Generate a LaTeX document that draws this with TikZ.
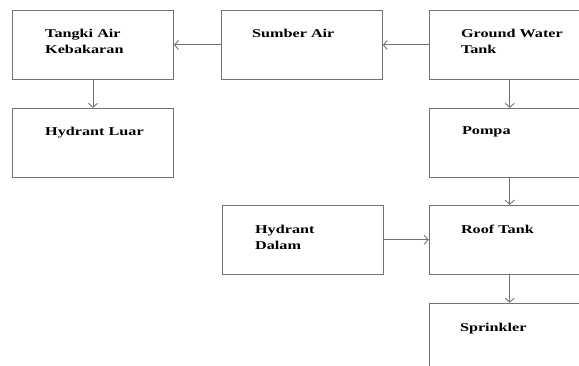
\documentclass[tikz,border=0pt]{standalone}
\usepackage{fontspec}
\setmainfont[FakeStretch=1.35]{Liberation Serif}
\usetikzlibrary{positioning,arrows.meta}
\tikzset{
  kotak/.style={draw=black!55, line width=0.9pt, minimum width=161pt, minimum height=69pt, inner sep=0pt},
  tulisan/.style={font=\bfseries\fontsize{12}{16}\selectfont, align=left, anchor=north west, inner sep=0pt},
  panah/.style={draw=black!55, line width=0.9pt, -{Straight Barb[length=4pt,width=9pt]}}
}
\begin{document}
\begin{tikzpicture}
        \useasboundingbox[fill=white] (0,0) rectangle (579pt,-366pt);
        % kotak-kotak
        \node[kotak, anchor=north west] (tangki) at (12pt,-10pt) {};
        \node[kotak, right=47pt of tangki] (sumber) {};
        \node[kotak, right=46pt of sumber] (gwt) {};
        \node[kotak, below=28pt of tangki] (luar) {};
        \node[kotak, below=28pt of gwt] (pompa) {};
        \node[kotak, below=27pt of pompa] (roof) {};
        \node[kotak, below=28pt of roof] (sprinkler) {};
        \node[kotak, left=45pt of roof] (dalam) {};
        % tulisan
        \node[tulisan] (t-tangki) at ([xshift=33pt,yshift=-19pt]tangki.north west) {Tangki Air\\Kebakaran};
        \node[tulisan] (t-sumber) at ([xshift=31pt,yshift=-19pt]sumber.north west) {Sumber Air};
        \node[tulisan] (t-gwt) at ([xshift=32pt,yshift=-19pt]gwt.north west) {Ground Water\\Tank};
        \node[tulisan] (t-luar) at ([xshift=33pt,yshift=-19pt]luar.north west) {Hydrant Luar};
        \node[tulisan] (t-pompa) at ([xshift=33pt,yshift=-19pt]pompa.north west) {Pompa};
        \node[tulisan] (t-roof) at ([xshift=32pt,yshift=-20pt]roof.north west) {Roof Tank};
        \node[tulisan] (t-dalam) at ([xshift=33pt,yshift=-20pt]dalam.north west) {Hydrant\\Dalam};
        \node[tulisan] (t-sprinkler) at ([xshift=31pt,yshift=-20pt]sprinkler.north west) {Sprinkler};
        % panah
        \draw[panah] (sumber) -- (tangki);
        \draw[panah] (gwt) -- (sumber);
        \draw[panah] (tangki) -- (luar);
        \draw[panah] (gwt) -- (pompa);
        \draw[panah] (pompa) -- (roof);
        \draw[panah] (dalam) -- (roof);
        \draw[panah] (roof) -- (sprinkler);
\end{tikzpicture}
\end{document}
